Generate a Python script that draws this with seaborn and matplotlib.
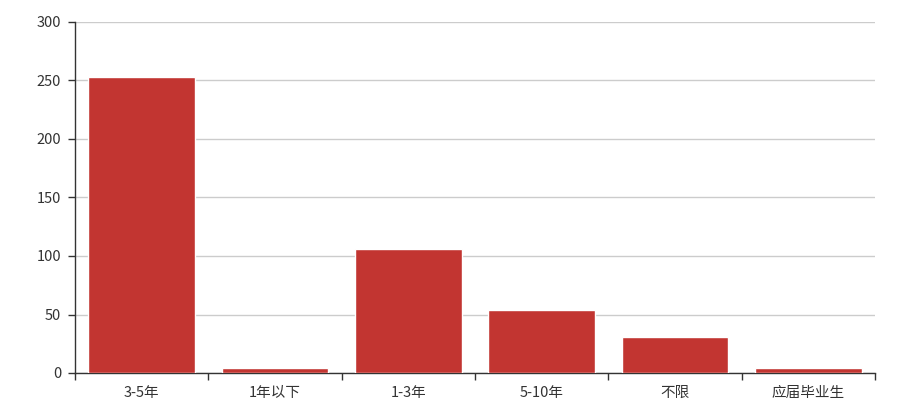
import numpy as np
import pandas as pd
import matplotlib
matplotlib.use("Agg")
import matplotlib.pyplot as plt
import seaborn as sns
from matplotlib.ticker import FixedLocator

# work experience categories and job counts
categories = ['3-5年', '1年以下', '1-3年', '5-10年', '不限', '应届毕业生']
counts = [253, 4, 106, 54, 31, 4]

sns.set_style("white")
plt.rcParams['font.family'] = ['Noto Sans CJK SC', 'DejaVu Sans']

df = pd.DataFrame({'exp': categories, 'n': counts})

fig = plt.figure(figsize=(9.14, 4.08), dpi=100)
ax = fig.add_axes([75 / 914, 35 / 408, 800 / 914, 351 / 408])

sns.barplot(data=df, x='exp', y='n', color='#c23531', saturation=1,
            width=0.8, ax=ax, zorder=3)

ax.set_ylim(0, 300)
ax.set_xlim(-0.5, len(categories) - 0.5)
ax.set_yticks(range(0, 301, 50))
ax.yaxis.grid(True, color='#cccccc', linewidth=1, zorder=0)
ax.set_xlabel('')
ax.set_ylabel('')

for s in ['top', 'right']:
    ax.spines[s].set_visible(False)
for s in ['left', 'bottom']:
    ax.spines[s].set_color('#333333')
    ax.spines[s].set_linewidth(1)

# x ticks at category boundaries like the original
ax.tick_params(axis='x', which='major', bottom=False, labelsize=10.5,
               colors='#333333', pad=6)
ax.xaxis.set_minor_locator(FixedLocator(np.arange(-0.5, len(categories), 1)))
ax.tick_params(axis='x', which='minor', bottom=True, length=5, width=1,
               color='#333333', direction='out')
ax.tick_params(axis='y', left=True, length=5, width=1, color='#333333',
               labelsize=10.5, labelcolor='#333333', pad=5)

fig.savefig('out.png', dpi=100)
